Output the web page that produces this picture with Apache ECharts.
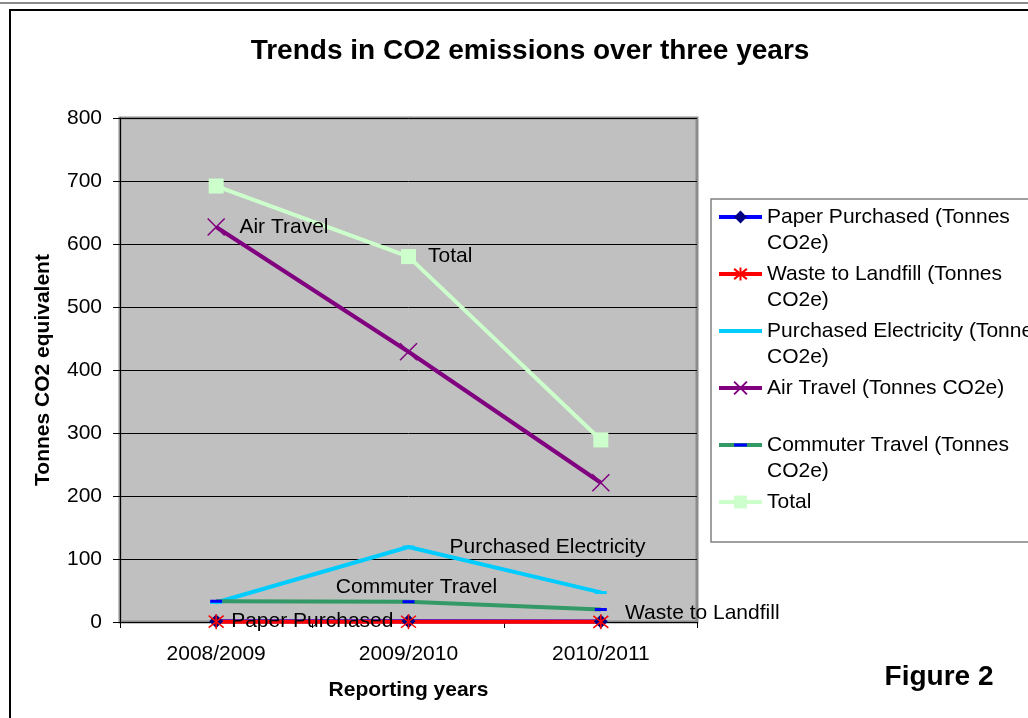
<!DOCTYPE html>
<html lang="en">
<head>
    <meta charset="UTF-8">
    <title>Trends in CO2 emissions</title>
    <script src="https://cdn.jsdelivr.net/npm/echarts@6/dist/echarts.min.js"></script>
    <style>
        html, body { margin: 0; padding: 0; background: #fff; }
    </style>
</head>
<body>
    <div id="ec" style="width:1028px;height:718px"></div>
</body>
<script>
    // data
    var years = ['2008/2009', '2009/2010', '2010/2011']
    var paper = [1.2, 1.0, 0.8]
    var waste = [0.5, 0.4, 0.3]
    var electricity = [31, 119, 47]
    var airTravel = [627, 429, 221]
    var commuter = [33, 32, 20]
    var total = [692, 580, 289]
    var yTicks = [0, 100, 200, 300, 400, 500, 600, 700, 800]

    var font = 'Arial, "Liberation Sans", sans-serif'

    var legendText = {
        'Paper Purchased (Tonnes CO2e)': 'Paper Purchased (Tonnes\nCO2e)',
        'Waste to Landfill (Tonnes CO2e)': 'Waste to Landfill (Tonnes\nCO2e)',
        'Purchased Electricity (Tonnes CO2e)': 'Purchased Electricity (Tonnes\nCO2e)',
        'Air Travel (Tonnes CO2e)': 'Air Travel (Tonnes CO2e)\n ',
        'Commuter Travel (Tonnes CO2e)': 'Commuter Travel (Tonnes\nCO2e)',
        'Total': 'Total\n '
    }

    // put a text label on one point of a series
    function withLabel(values, idx, text, lab) {
        return values.map(function (v, i) {
            if (i !== idx) return v
            return {
                value: v,
                label: Object.assign({
                    show: true,
                    formatter: text,
                    color: '#000',
                    fontSize: 21,
                    fontFamily: font
                }, lab)
            }
        })
    }

    var xMark = 'path://M0,0L10,10M10,0L0,10'
    var starMark = 'path://M5,0L5,10M1,1L9,9M9,1L1,9'
    // flat dash inside a square box, so legend and plot both keep it flat
    var dashMark = 'path://M0,0L0.01,0M0,4.5L12,4.5L12,7.5L0,7.5ZM0,12L0.01,12'

    var ech = document.getElementById('ec')
    var mychart = echarts.init(ech)
    var options = {
        backgroundColor: '#fff',
        animation: false,
        textStyle: { fontFamily: font },
        graphic: [
            { type: 'line', shape: { x1: 0, y1: 3, x2: 1028, y2: 3 }, style: { stroke: '#8a8a8a', lineWidth: 2 } },
            { type: 'rect', shape: { x: 10, y: 10, width: 1040, height: 730 }, style: { fill: 'none', stroke: '#000', lineWidth: 2 } },
            { type: 'rect', shape: { x: 711, y: 199, width: 400, height: 343 }, style: { fill: 'none', stroke: '#808080', lineWidth: 1.5 } },
            {
                type: 'text', x: 530, y: 51,
                style: { text: 'Trends in CO2 emissions over three years', fill: '#000', font: 'bold 28px ' + font, textAlign: 'center', textVerticalAlign: 'middle' }
            },
            {
                type: 'text', x: 939, y: 677,
                style: { text: 'Figure 2', fill: '#000', font: 'bold 28px ' + font, textAlign: 'center', textVerticalAlign: 'middle' }
            }
        ],
        grid: {
            left: 120, right: 331, top: 118, bottom: 96,
            show: true,
            backgroundColor: '#c0c0c0',
            borderColor: '#8c8c8c',
            borderWidth: 3
        },
        legend: {
            orient: 'vertical',
            left: 717,
            top: 178,
            padding: 0,
            itemGap: -21,
            itemWidth: 43,
            itemHeight: 16,
            lineStyle: { width: 4 },
            textStyle: { fontSize: 21, lineHeight: 26, color: '#000', fontFamily: font },
            formatter: function (name) {
                return ' \n' + legendText[name]
            }
        },
        xAxis: {
            type: 'category',
            data: years,
            boundaryGap: true,
            name: 'Reporting years',
            nameLocation: 'middle',
            nameGap: 58,
            nameTextStyle: { fontSize: 21, fontWeight: 'bold', color: '#000' },
            axisLine: { lineStyle: { color: '#000', width: 1 } },
            axisTick: { show: true, length: 6, lineStyle: { color: '#000' } },
            axisLabel: { fontSize: 21, color: '#000', margin: 22 },
            splitLine: { show: false }
        },
        yAxis: {
            type: 'value',
            min: yTicks[0],
            max: yTicks[yTicks.length - 1],
            interval: yTicks[1] - yTicks[0],
            name: 'Tonnes CO2 equivalent',
            nameLocation: 'middle',
            nameRotate: 90,
            nameGap: 66,
            nameTextStyle: { fontSize: 21, fontWeight: 'bold', color: '#000' },
            axisLine: { show: true, lineStyle: { color: '#000', width: 1 } },
            axisTick: { show: true, length: 7, lineStyle: { color: '#000' } },
            axisLabel: { fontSize: 21, color: '#000', margin: 18 },
            splitLine: { show: true, lineStyle: { color: '#000', width: 1 } }
        },
        series: [
            {
                name: 'Paper Purchased (Tonnes CO2e)',
                type: 'line',
                data: withLabel(paper, 0, 'Paper Purchased', { position: 'right', distance: 8 }),
                symbol: 'diamond',
                symbolSize: 14,
                itemStyle: { color: '#000080' },
                lineStyle: { color: '#0000ff', width: 4 }
            },
            {
                name: 'Waste to Landfill (Tonnes CO2e)',
                type: 'line',
                data: withLabel(waste, 2, 'Waste to Landfill', { position: 'right', distance: 16, offset: [0, -9] }),
                symbol: starMark,
                symbolSize: 15,
                itemStyle: { color: 'transparent', borderColor: '#ff0000', borderWidth: 1.5 },
                lineStyle: { color: '#ff0000', width: 4 }
            },
            {
                name: 'Purchased Electricity (Tonnes CO2e)',
                type: 'line',
                data: withLabel(electricity, 1, 'Purchased Electricity', { position: 'right', distance: 35, offset: [0, 0] }),
                symbol: dashMark,
                symbolSize: 12,
                itemStyle: { color: '#00ccff', borderWidth: 0 },
                lineStyle: { color: '#00ccff', width: 4 }
            },
            {
                name: 'Air Travel (Tonnes CO2e)',
                type: 'line',
                data: withLabel(airTravel, 0, 'Air Travel', { position: 'right', distance: 14 }),
                symbol: xMark,
                symbolSize: 17,
                itemStyle: { color: 'transparent', borderColor: '#800080', borderWidth: 1.5 },
                lineStyle: { color: '#800080', width: 4 }
            },
            {
                name: 'Commuter Travel (Tonnes CO2e)',
                type: 'line',
                data: withLabel(commuter, 1, 'Commuter Travel', { position: 'top', distance: 5, offset: [8, 7] }),
                symbol: dashMark,
                symbolSize: 12,
                itemStyle: { color: '#0000ff', borderWidth: 0 },
                lineStyle: { color: '#339966', width: 4 }
            },
            {
                name: 'Total',
                type: 'line',
                data: withLabel(total, 1, 'Total', { position: 'right', distance: 12 }),
                symbol: 'rect',
                symbolSize: 15,
                itemStyle: { color: '#ccffcc' },
                lineStyle: { color: '#ccffcc', width: 4 }
            }
        ]
    }
    mychart.setOption(options)
</script>
</html>
